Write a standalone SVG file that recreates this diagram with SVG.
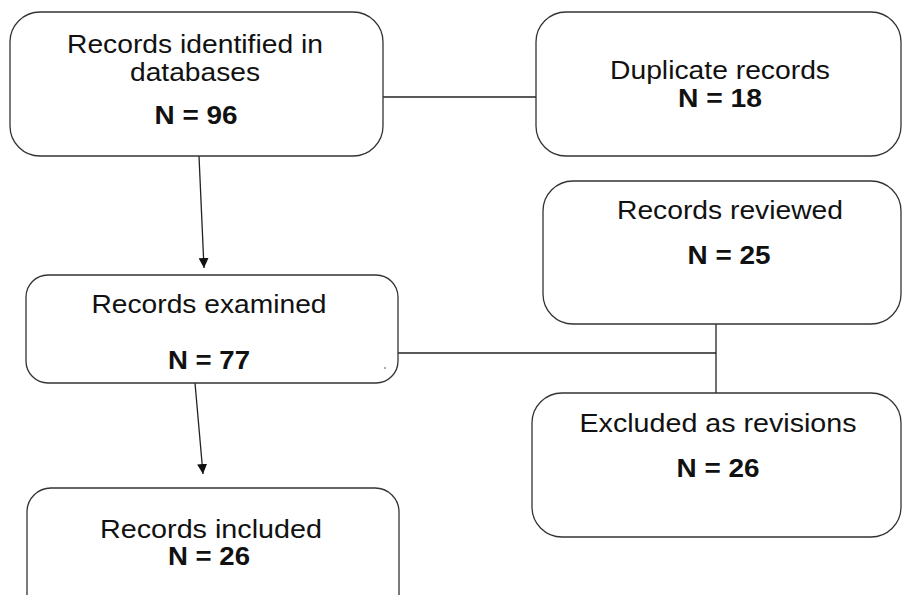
<svg xmlns="http://www.w3.org/2000/svg" width="902" height="595" viewBox="0 0 902 595">
<style>
.box{fill:#fff;stroke:#333;stroke-width:1.3}
.t{font-family:"Liberation Sans",Arial,sans-serif;font-size:25px;fill:#111;text-anchor:middle}
.b{font-weight:bold}
.c{stroke:#222;stroke-width:1.3;fill:none}
</style>
<defs>
<marker id="ah" viewBox="0 0 10 10" refX="10" refY="5" markerWidth="10" markerHeight="10" markerUnits="userSpaceOnUse" orient="auto">
<path d="M0,0 L10,5 L0,10 z" fill="#111"/>
</marker>
</defs>
<rect width="902" height="595" fill="#fff"/>
<g id="connectors">
<line class="c" x1="383" y1="97" x2="536" y2="97"/>
<line class="c" x1="199" y1="156" x2="204" y2="268" marker-end="url(#ah)"/>
<line class="c" x1="195" y1="383" x2="203" y2="474" marker-end="url(#ah)"/>
<line class="c" x1="398" y1="353" x2="716" y2="353"/>
<line class="c" x1="716" y1="324" x2="716" y2="393"/>
</g>
<g id="n1">
<rect class="box" x="10" y="12" width="373" height="144" rx="30"/>
<text class="t" x="195" y="53" textLength="256" lengthAdjust="spacingAndGlyphs">Records identified in</text>
<text class="t" x="195" y="81" textLength="130" lengthAdjust="spacingAndGlyphs">databases</text>
<text class="t b" x="196" y="124" textLength="83" lengthAdjust="spacingAndGlyphs">N = 96</text>
</g>
<g id="n2">
<rect class="box" x="536" y="12" width="365" height="144" rx="30"/>
<text class="t" x="720" y="79" textLength="220" lengthAdjust="spacingAndGlyphs">Duplicate records</text>
<text class="t b" x="720" y="107" textLength="84" lengthAdjust="spacingAndGlyphs">N = 18</text>
</g>
<g id="n3">
<rect class="box" x="26" y="275" width="372" height="108" rx="22"/>
<text class="t" x="209" y="313" textLength="235" lengthAdjust="spacingAndGlyphs">Records examined</text>
<text class="t b" x="209" y="369" textLength="82" lengthAdjust="spacingAndGlyphs">N = 77</text>
<circle cx="385" cy="368" r="0.8" fill="#444"/>
</g>
<g id="n4">
<rect class="box" x="543" y="181" width="358" height="143" rx="30"/>
<text class="t" x="730" y="219" textLength="226" lengthAdjust="spacingAndGlyphs">Records reviewed</text>
<text class="t b" x="729" y="264" textLength="83" lengthAdjust="spacingAndGlyphs">N = 25</text>
</g>
<g id="n5">
<rect class="box" x="532" y="393" width="369" height="144" rx="30"/>
<text class="t" x="718" y="432" textLength="277" lengthAdjust="spacingAndGlyphs">Excluded as revisions</text>
<text class="t b" x="718" y="477" textLength="83" lengthAdjust="spacingAndGlyphs">N = 26</text>
</g>
<g id="n6">
<rect class="box" x="27" y="488" width="372" height="140" rx="24"/>
<text class="t" x="211" y="538" textLength="222" lengthAdjust="spacingAndGlyphs">Records included</text>
<text class="t b" x="209" y="565" textLength="82" lengthAdjust="spacingAndGlyphs">N = 26</text>
</g>
</svg>
